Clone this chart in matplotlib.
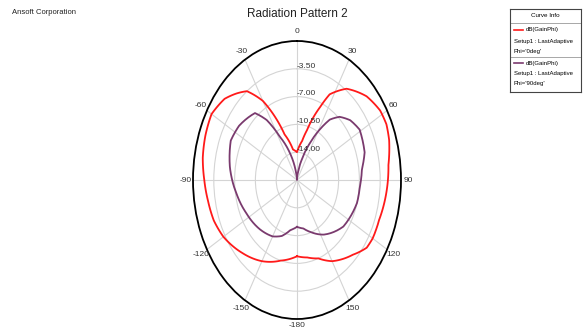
import matplotlib
matplotlib.use("Agg")
import matplotlib.pyplot as plt
import numpy as np

# Curve data (theta in degrees, gain in dB)
theta_phi0 = [-180, -165, -150, -135, -120, -110, -100, -90, -80, -70, -60, -50, -43, -37,
              -30, -20, -10, 0, 10, 15, 23, 27, 36, 48, 58, 65, 72, 83, 90, 100, 110, 120,
              126, 135, 150, 160, 170, 180]
gain_phi0 = [-7.9, -7.0, -5.7, -4.5, -3.2, -2.6, -2.3, -1.9, -1.4, -1.1, -0.9, -1.6, -2.6, -3.5,
             -6.0, -11.4, -13.6, -14.0, -12.5, -11.0, -7.5, -5.4, -3.3, -1.75, -1.0, -0.9, -1.2, -2.0,
             -2.2, -2.5, -2.8, -2.8, -3.0, -4.2, -5.7, -7.0, -7.6, -7.9]

theta_phi90 = [-180, -170, -160, -150, -135, -116, -100, -82, -66, -55, -40, -34, -28, -19,
               -10, 0, 10, 17, 25, 31, 36, 42, 50, 59, 73, 83, 95, 106, 127, 147, 160, 170, 180]
gain_phi90 = [-11.6, -11.1, -10.0, -9.3, -8.7, -8.0, -7.2, -6.1, -5.3, -5.6, -6.5, -8.4, -11.3, -14.0,
              -16.5, -17.5, -16.5, -14.9, -12.4, -10.1, -8.1, -6.8, -5.8, -5.2, -5.6, -6.5, -6.9, -7.0,
              -7.75, -9.3, -10.5, -11.3, -11.6]

r_ticks = [-14.0, -10.5, -7.0, -3.5]
theta_ticks = [0, 30, 60, 90, 120, 150, 180, 210, 240, 270, 300, 330]
theta_labels = ['0', '30', '60', '90', '120', '150', '-180', '-150', '-120', '-90', '-60', '-30']

plt.rcParams['font.family'] = ['Liberation Sans Narrow', 'Liberation Sans', 'DejaVu Sans']

fig = plt.figure(figsize=(5.85, 3.29), dpi=100)
ax = fig.add_axes([193 / 585, 1 - 319 / 329, 208 / 585, 278 / 329], projection='polar')
ax.set_aspect('auto')
ax.set_theta_zero_location('N')
ax.set_theta_direction(-1)

l1, = ax.plot(np.deg2rad(theta_phi0), gain_phi0, color='#ff1a1a', linewidth=1.3)
l2, = ax.plot(np.deg2rad(theta_phi90), gain_phi90, color='#7a3a6e', linewidth=1.3)
# draw segments as curves in (theta, r) space
for ln in (l1, l2):
    ln.get_path()._interpolation_steps = 25

rmin, rmax = -17.5, 0
ax.set_ylim(rmin, rmax)
ax.set_yticks(r_ticks)
ax.set_yticklabels([])
for r in r_ticks:
    ax.text(0, r + 0.35, '%.2f' % r, fontsize=6, color='#333333', ha='left', va='center')

ax.set_xticks(np.deg2rad(theta_ticks))
ax.set_xticklabels([])
ax.set_xticks(np.deg2rad(np.arange(0, 360, 5)), minor=True)
ax.tick_params(axis='x', which='major', direction='in', length=5, width=1)
ax.tick_params(axis='x', which='minor', direction='in', length=3, width=0.8)
ax.grid(True, color='#d4d4d4', linewidth=0.8)
ax.spines['polar'].set_color('black')
ax.spines['polar'].set_linewidth(1.3)

# angle labels just outside the ring
for t, lab in zip(theta_ticks, theta_labels):
    k = 1.05 if t == 180 else 1.07
    ax.text(np.deg2rad(t), rmin + k * (rmax - rmin), lab, fontsize=6, color='#333333',
            ha='center', va='center', clip_on=False)

fig.text(297 / 585, 1 - 14 / 329, 'Radiation Pattern 2', fontsize=8.5, ha='center', va='center', color='#222222')
fig.text(12 / 585, 1 - 13 / 329, 'Ansoft Corporation', fontsize=5.5, ha='left', va='center', color='#222222')

# Curve info box
lg = fig.add_axes([510 / 585, 1 - 92 / 329, 71 / 585, 83 / 329])
lg.set_xlim(510, 581)
lg.set_ylim(92, 9)
lg.set_xticks([])
lg.set_yticks([])
for s in lg.spines.values():
    s.set_color('#444444')
    s.set_linewidth(0.8)
lg.text(545.5, 16, 'Curve Info', fontsize=4.5, ha='center', va='center')
lg.axhline(23.3, color='#999999', linewidth=0.6)
lg.axhline(57.3, color='#999999', linewidth=0.6)
lg.plot([514, 523], [30, 30], color='#ff1a1a', linewidth=1.2)
lg.text(526, 30, 'dB(GainPhi)', fontsize=4.3, va='center')
lg.text(514, 41.5, 'Setup1 : LastAdaptive', fontsize=4.3, va='center')
lg.text(514, 51.5, "Phi='0deg'", fontsize=4.3, va='center')
lg.plot([514, 523], [63, 63], color='#7a3a6e', linewidth=1.2)
lg.text(526, 63, 'dB(GainPhi)', fontsize=4.3, va='center')
lg.text(514, 74, 'Setup1 : LastAdaptive', fontsize=4.3, va='center')
lg.text(514, 84, "Phi='90deg'", fontsize=4.3, va='center')

fig.savefig('out.png', dpi=100)
